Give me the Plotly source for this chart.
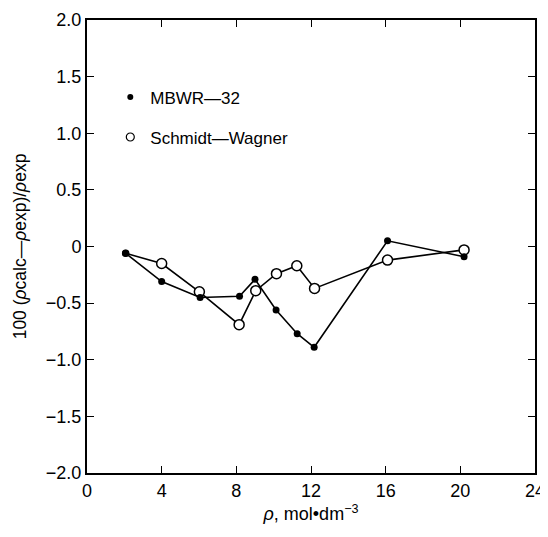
import plotly.graph_objects as go

rho_mbwr = [2.07, 4.0, 6.06, 8.17, 9.0, 10.13, 11.26, 12.17, 16.1, 20.2]
dev_mbwr = [-0.06, -0.31, -0.45, -0.44, -0.29, -0.56, -0.77, -0.89, 0.05, -0.09]

rho_sw = [2.07, 4.0, 6.02, 8.15, 9.04, 10.15, 11.24, 12.19, 16.1, 20.2]
dev_sw = [-0.06, -0.15, -0.40, -0.69, -0.39, -0.24, -0.17, -0.37, -0.12, -0.03]

x_ticks = [0, 4, 8, 12, 16, 20, 24]
y_ticks = [-2.0, -1.5, -1.0, -0.5, 0, 0.5, 1.0, 1.5, 2.0]
y_tick_text = ["\u22122.0", "\u22121.5", "\u22121.0", "\u22120.5", "0", "0.5", "1.0", "1.5", "2.0"]

FONT = "Liberation Sans, Arial, sans-serif"

# first open point coincides with the filled one and is hidden beneath it
sw_sizes = [6] + [10] * (len(rho_sw) - 1)

fig = go.Figure()
fig.add_trace(go.Scatter(x=rho_sw, y=dev_sw, mode="lines+markers", showlegend=False,
                         line=dict(color="black", width=1.6),
                         marker=dict(symbol="circle", size=sw_sizes, color="#ffffff",
                                     opacity=1,
                                     line=dict(color="black", width=1.5))))
fig.add_trace(go.Scatter(x=rho_mbwr, y=dev_mbwr, mode="lines+markers", showlegend=False,
                         line=dict(color="black", width=1.6),
                         marker=dict(symbol="circle", size=7, color="black")))
# legend entries
fig.add_trace(go.Scatter(x=[None], y=[None], mode="markers", name="MBWR\u201432",
                         legendgroup="a",
                         marker=dict(symbol="circle", size=6, color="black")))
fig.add_trace(go.Scatter(x=[None], y=[None], mode="markers", name="Schmidt\u2014Wagner",
                         legendgroup="b",
                         marker=dict(symbol="circle", size=8, color="#ffffff",
                                     line=dict(color="black", width=1.2))))

fig.update_layout(
    width=540, height=529,
    margin=dict(l=79, r=13, t=12, b=64),
    plot_bgcolor="white", paper_bgcolor="white",
    font=dict(family=FONT, size=18, color="black"),
    legend=dict(x=0.052, y=0.869, xanchor="left", yanchor="top",
                bgcolor="rgba(0,0,0,0)", font=dict(size=17),
                tracegroupgap=15, itemwidth=30),
    xaxis=dict(range=[0, 24], tickvals=x_ticks, ticks="inside", ticklen=7,
               tickcolor="black", showline=True, linecolor="black", linewidth=2,
               mirror="ticks", showgrid=False, zeroline=False, automargin=False,
               title=dict(text="<i>\u03c1</i>, mol\u2022dm<sup>\u22123</sup>", standoff=8,
                          font=dict(size=18))),
    yaxis=dict(range=[-2.0, 2.0], tickvals=y_ticks, ticktext=y_tick_text,
               ticks="inside", ticklen=7, tickcolor="black",
               showline=True, linecolor="black", linewidth=2, mirror="ticks",
               showgrid=False, zeroline=False, automargin=False,
               title=dict(text="100 (<i>\u03c1</i>calc\u2014<i>\u03c1</i>exp)/<i>\u03c1</i>exp",
                          standoff=15, font=dict(size=17.5))),
)

fig.write_html("out.html")
